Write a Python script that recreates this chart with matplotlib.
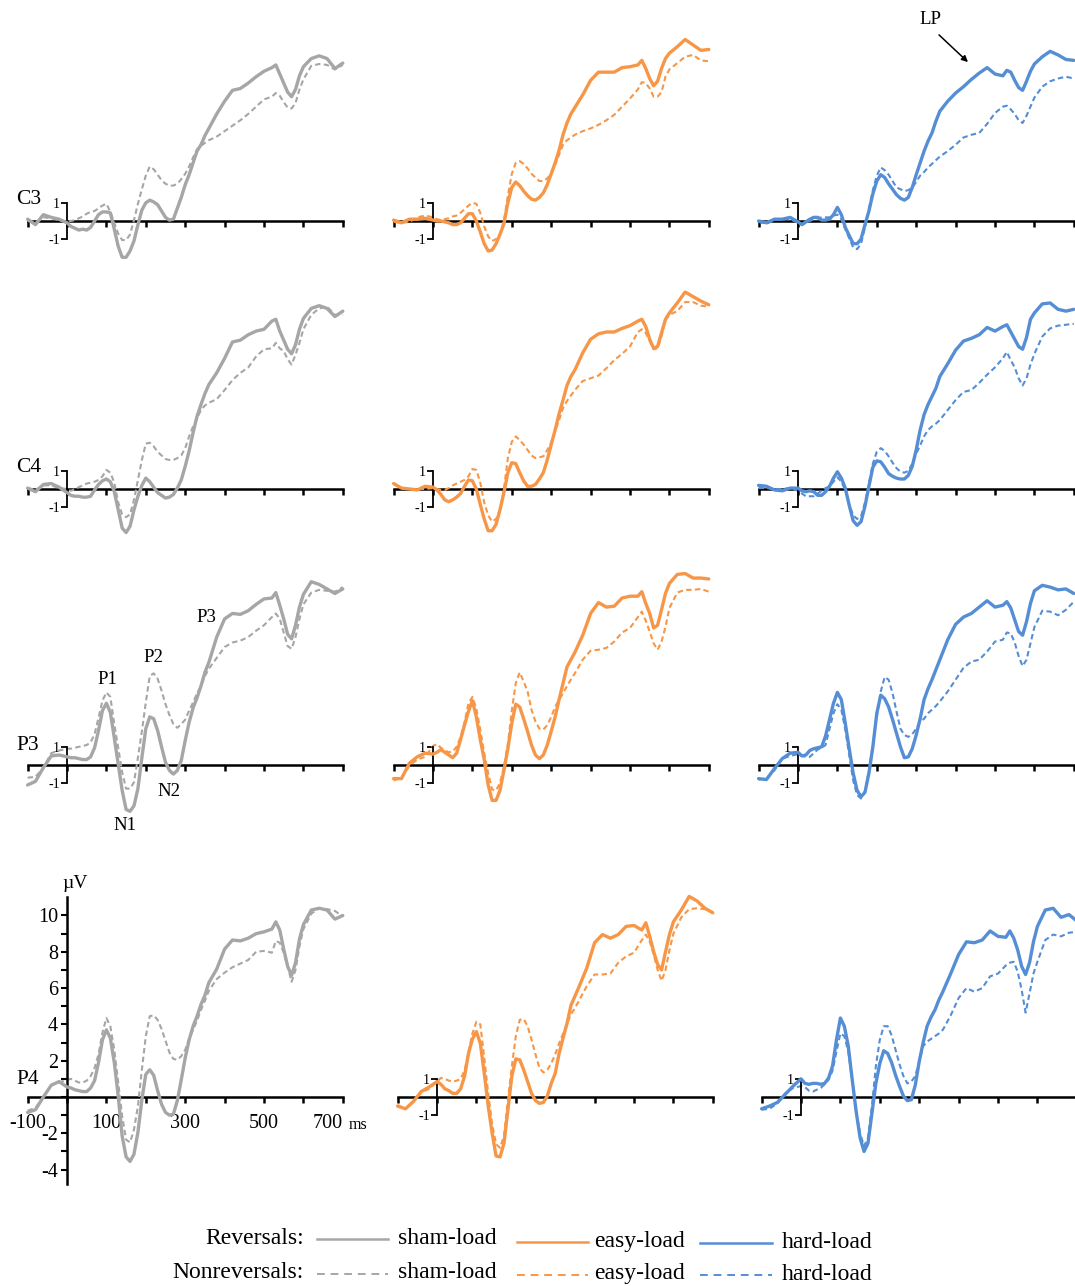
import matplotlib.pyplot as plt
from matplotlib.lines import Line2D

plt.rcParams['font.family'] = ['Liberation Serif', 'DejaVu Serif']
plt.rcParams['axes.unicode_minus'] = False

# time points (ms)
times = [-100, -80, -60, -40, -20,
         0, 10, 20, 30, 40, 50, 60, 70, 80, 90,
         100, 110, 120, 130, 140, 150, 160, 170, 180, 190,
         200, 210, 220, 230, 240, 250, 260, 270, 280, 290,
         300, 310, 320, 330, 340, 350, 360,
         380, 400, 420, 440, 460, 480, 500,
         520, 530, 540, 550, 560, 570, 580, 590, 600,
         620, 640, 660, 680, 700]

# amplitudes (uV); rev = reversals (solid), non = nonreversals (dashed)
c3_sham_rev = [0.1, -0.2, 0.35, 0.2, 0.1,
               -0.1, -0.3, -0.4, -0.5, -0.45, -0.5, -0.35, 0.0, 0.35, 0.5,
               0.5, 0.45, -0.45, -1.4, -2.0, -2.0, -1.65, -1.1, -0.2, 0.6,
               1.0, 1.15, 1.05, 0.9, 0.55, 0.2, 0.05, 0.1, 0.7, 1.3,
               2.0, 2.55, 3.2, 3.85, 4.2, 4.7, 5.1,
               5.9, 6.6, 7.2, 7.3, 7.6, 7.95, 8.25,
               8.45, 8.6, 8.1, 7.6, 7.1, 6.85, 7.25, 8.0, 8.5,
               8.95, 9.1, 8.95, 8.4, 8.7]
c3_sham_non = [0.0, -0.1, 0.2, 0.15, 0.05,
               -0.05, 0.0, 0.05, 0.15, 0.25, 0.4, 0.5, 0.55, 0.7, 0.85,
               0.95, 0.5, -0.1, -0.7, -1.05, -1.05, -0.75, 0.05, 0.95, 1.75,
               2.5, 3.0, 2.85, 2.55, 2.25, 2.05, 1.95, 1.95, 2.05, 2.3,
               2.6, 3.0, 3.5, 3.95, 4.15, 4.3, 4.45,
               4.65, 4.95, 5.25, 5.55, 5.9, 6.3, 6.7,
               6.85, 7.05, 6.9, 6.55, 6.25, 6.2, 6.5, 7.25, 7.8,
               8.55, 8.65, 8.6, 8.35, 8.6]
c3_easy_rev = [0.05, -0.1, 0.1, 0.1, 0.15,
               0.05, 0.0, 0.0, -0.05, -0.1, -0.2, -0.2, -0.1, 0.15, 0.4,
               0.4, 0.0, -0.6, -1.25, -1.65, -1.6, -1.25, -0.75, -0.15, 1.0,
               1.85, 2.15, 1.95, 1.65, 1.4, 1.2, 1.15, 1.3, 1.55, 2.0,
               2.6, 3.2, 3.9, 4.75, 5.4, 5.9, 6.25,
               6.95, 7.75, 8.2, 8.2, 8.2, 8.45, 8.5,
               8.6, 8.85, 8.4, 7.85, 7.45, 7.7, 8.4, 8.95, 9.25,
               9.6, 10.0, 9.7, 9.4, 9.45]
c3_easy_non = [-0.05, -0.1, -0.05, 0.2, 0.3,
               0.2, 0.1, 0.05, 0.1, 0.15, 0.25, 0.3, 0.45, 0.65, 0.85,
               1.0, 0.95, 0.45, -0.3, -0.85, -1.1, -1.0, -0.7, 0.0, 1.4,
               2.6, 3.2, 3.3, 3.15, 2.9, 2.6, 2.4, 2.2, 2.2, 2.35,
               2.6, 3.1, 3.65, 4.2, 4.45, 4.6, 4.75,
               4.95, 5.1, 5.3, 5.55, 5.85, 6.3, 6.75,
               7.25, 7.65, 7.6, 7.3, 6.85, 6.85, 7.1, 7.95, 8.35,
               8.7, 9.05, 9.15, 8.85, 8.8]
c3_hard_rev = [0.0, -0.1, 0.1, 0.1, 0.2,
               -0.05, -0.2, -0.05, 0.1, 0.2, 0.2, 0.05, 0.05, 0.1, 0.35,
               0.75, 0.35, -0.35, -0.8, -1.25, -1.25, -1.0, -0.2, 0.55, 1.5,
               2.2, 2.55, 2.4, 2.05, 1.75, 1.45, 1.25, 1.15, 1.3, 1.85,
               2.55, 3.2, 3.85, 4.4, 4.85, 5.5, 6.05,
               6.6, 7.05, 7.4, 7.8, 8.15, 8.45, 8.1,
               8.0, 8.3, 8.2, 7.75, 7.35, 7.2, 7.7, 8.25, 8.65,
               9.05, 9.35, 9.15, 8.9, 8.85]
c3_hard_non = [-0.05, -0.15, 0.05, 0.1, 0.1,
               -0.1, -0.2, -0.1, 0.0, 0.1, 0.15, 0.2, 0.2, 0.2, 0.3,
               0.35, 0.1, -0.45, -0.95, -1.45, -1.55, -1.25, -0.35, 0.65, 1.7,
               2.5, 2.95, 2.8, 2.55, 2.2, 1.85, 1.75, 1.65, 1.7, 1.85,
               2.15, 2.5, 2.7, 2.95, 3.15, 3.35, 3.55,
               3.85, 4.2, 4.6, 4.75, 4.85, 5.35, 5.95,
               6.3, 6.35, 6.15, 5.9, 5.55, 5.4, 5.8, 6.3, 6.8,
               7.4, 7.7, 7.85, 7.95, 7.85]

c4_sham_rev = [0.05, -0.15, 0.25, 0.3, 0.1,
               -0.2, -0.35, -0.4, -0.4, -0.45, -0.45, -0.4, -0.05, 0.25, 0.45,
               0.55, 0.4, -0.15, -1.15, -2.15, -2.4, -2.05, -1.15, -0.4, 0.2,
               0.6, 0.4, 0.1, -0.2, -0.35, -0.5, -0.45, -0.3, 0.05, 0.5,
               1.25, 2.1, 3.1, 4.0, 4.65, 5.25, 5.75,
               6.4, 7.2, 8.1, 8.2, 8.5, 8.7, 8.8,
               9.25, 9.35, 8.7, 8.2, 7.7, 7.45, 7.95, 8.8, 9.4,
               9.95, 10.1, 9.95, 9.5, 9.8]
c4_sham_non = [0.05, -0.05, 0.2, 0.2, 0.05,
               0.0, -0.1, 0.0, 0.1, 0.2, 0.3, 0.35, 0.4, 0.5, 0.7,
               1.05, 0.9, 0.35, -0.75, -1.4, -1.55, -1.4, -0.6, 0.5, 1.6,
               2.5, 2.55, 2.35, 2.05, 1.85, 1.65, 1.6, 1.6, 1.7, 1.85,
               2.25, 2.9, 3.45, 3.9, 4.35, 4.6, 4.75,
               4.95, 5.45, 6.0, 6.4, 6.7, 7.3, 7.7,
               7.75, 8.05, 7.75, 7.6, 7.15, 6.85, 7.4, 8.05, 8.8,
               9.6, 9.95, 10.05, 9.6, 9.6]
c4_easy_rev = [0.3, 0.05, 0.0, -0.05, 0.15,
               0.1, -0.05, -0.3, -0.6, -0.7, -0.6, -0.45, -0.25, 0.15, 0.5,
               0.45, 0.0, -0.85, -1.65, -2.3, -2.3, -1.95, -1.15, -0.2, 0.9,
               1.45, 1.4, 0.9, 0.45, 0.15, 0.15, 0.25, 0.55, 0.9, 1.6,
               2.45, 3.25, 4.15, 4.9, 5.7, 6.2, 6.55,
               7.5, 8.25, 8.55, 8.65, 8.65, 8.85, 9.0,
               9.25, 9.35, 8.95, 8.25, 7.75, 7.85, 8.6, 9.35, 9.7,
               10.25, 10.85, 10.6, 10.35, 10.15]
c4_easy_non = [0.3, 0.05, 0.0, 0.0, 0.0,
               0.05, 0.0, -0.05, -0.05, 0.05, 0.2, 0.3, 0.4, 0.5, 0.7,
               1.1, 1.05, 0.35, -0.75, -1.45, -1.8, -1.65, -1.15, 0.0, 1.7,
               2.6, 2.9, 2.7, 2.45, 2.15, 1.85, 1.7, 1.75, 1.8, 2.15,
               2.55, 3.2, 3.8, 4.45, 4.85, 5.15, 5.45,
               5.95, 6.1, 6.25, 6.65, 7.1, 7.45, 7.85,
               8.65, 8.8, 8.6, 8.15, 7.7, 7.75, 8.4, 9.3, 9.6,
               9.8, 10.3, 10.3, 10.1, 10.05]
c4_hard_rev = [0.2, 0.15, -0.05, -0.1, 0.05,
               0.05, -0.1, -0.15, -0.1, -0.15, -0.35, -0.35, -0.15, 0.15, 0.6,
               0.95, 0.6, 0.05, -0.9, -1.75, -2.0, -1.8, -0.95, 0.15, 1.2,
               1.55, 1.5, 1.2, 0.85, 0.7, 0.6, 0.55, 0.55, 0.75, 1.25,
               2.15, 3.25, 4.1, 4.65, 5.1, 5.55, 6.2,
               6.9, 7.65, 8.15, 8.3, 8.5, 8.9, 8.7,
               8.95, 9.05, 8.65, 8.25, 7.85, 7.7, 8.35, 9.35, 9.7,
               10.2, 10.25, 9.9, 9.8, 9.9]
c4_hard_non = [0.05, 0.05, 0.0, 0.0, 0.05,
               -0.1, -0.25, -0.4, -0.4, -0.4, -0.25, -0.1, 0.05, 0.15, 0.4,
               0.65, 0.4, -0.05, -0.85, -1.45, -1.65, -1.5, -0.75, 0.3, 1.4,
               2.05, 2.25, 2.1, 1.8, 1.45, 1.15, 0.95, 0.9, 1.0, 1.4,
               1.95, 2.4, 2.9, 3.25, 3.45, 3.6, 3.8,
               4.35, 4.9, 5.35, 5.45, 5.85, 6.3, 6.7,
               7.2, 7.55, 7.1, 6.7, 6.1, 5.7, 6.1, 6.85, 7.45,
               8.4, 8.85, 9.0, 9.05, 9.1]

p3_sham_rev = [-1.1, -0.9, -0.15, 0.5, 0.55,
               0.45, 0.4, 0.4, 0.35, 0.3, 0.3, 0.45, 0.95, 1.9, 3.0,
               3.4, 2.9, 1.5, 0.05, -1.4, -2.45, -2.55, -2.25, -1.3, 0.4,
               2.0, 2.65, 2.55, 1.9, 1.0, 0.15, -0.3, -0.5, -0.3, 0.25,
               1.35, 2.35, 3.15, 3.7, 4.35, 5.1, 5.65,
               7.05, 8.05, 8.35, 8.3, 8.5, 8.85, 9.15,
               9.2, 9.5, 8.8, 8.05, 7.2, 6.95, 7.7, 8.7, 9.4,
               10.1, 9.95, 9.7, 9.45, 9.7]
p3_sham_non = [-0.7, -0.65, -0.15, 0.65, 0.8,
               0.9, 0.9, 0.95, 1.0, 1.05, 1.1, 1.25, 1.7, 2.6, 3.55,
               4.0, 3.75, 2.25, 0.95, -0.4, -1.3, -1.3, -0.95, 0.4, 1.85,
               3.45, 4.9, 5.05, 4.75, 4.1, 3.35, 2.75, 2.25, 2.05, 2.25,
               2.5, 3.0, 3.45, 3.95, 4.35, 4.9, 5.3,
               5.9, 6.5, 6.75, 6.85, 7.05, 7.4, 7.7,
               8.15, 8.35, 8.05, 7.3, 6.55, 6.4, 7.05, 8.05, 8.85,
               9.5, 9.65, 9.6, 9.55, 9.8]
p3_easy_rev = [-0.75, -0.75, 0.1, 0.45, 0.65,
               0.6, 0.7, 0.85, 0.7, 0.55, 0.4, 0.65, 1.4, 2.2, 2.95,
               3.55, 2.65, 1.4, 0.3, -1.1, -1.95, -1.95, -1.4, -0.3, 0.9,
               2.3, 3.35, 3.2, 2.55, 1.85, 1.1, 0.55, 0.35, 0.55, 1.1,
               1.85, 2.65, 3.6, 4.5, 5.4, 5.8, 6.2,
               7.15, 8.35, 8.95, 8.7, 8.75, 9.2, 9.3,
               9.3, 9.55, 8.9, 8.35, 7.55, 7.7, 8.55, 9.45, 10.0,
               10.5, 10.55, 10.3, 10.3, 10.25]
p3_easy_non = [-0.85, -0.7, -0.05, 0.3, 0.45,
               1.05, 1.15, 0.95, 0.8, 0.7, 0.75, 1.0, 1.55, 2.35, 3.4,
               3.75, 3.1, 1.95, 0.65, -0.45, -1.35, -1.4, -1.0, -0.1, 1.15,
               3.0, 4.5, 5.1, 4.6, 4.05, 3.05, 2.4, 2.0, 1.95, 2.2,
               2.65, 3.2, 3.6, 3.95, 4.35, 4.7, 5.05,
               5.8, 6.3, 6.35, 6.45, 6.8, 7.3, 7.55,
               8.15, 8.45, 7.95, 7.35, 6.7, 6.35, 6.8, 7.6, 8.65,
               9.5, 9.65, 9.65, 9.7, 9.55]
p3_hard_rev = [-0.75, -0.8, -0.2, 0.35, 0.65,
               0.7, 0.5, 0.55, 0.8, 0.9, 0.95, 1.0, 1.6, 2.5, 3.4,
               4.0, 3.6, 2.3, 0.9, -0.45, -1.4, -1.75, -1.5, -0.45, 1.0,
               2.85, 3.85, 3.65, 3.2, 2.5, 1.75, 1.0, 0.4, 0.45, 0.9,
               1.65, 2.55, 3.6, 4.2, 4.7, 5.25, 5.8,
               6.9, 7.75, 8.15, 8.35, 8.7, 9.05, 8.7,
               8.8, 9.0, 8.65, 8.0, 7.35, 7.15, 7.9, 8.9, 9.6,
               9.9, 9.8, 9.65, 9.7, 9.45]
p3_hard_non = [-0.8, -0.75, -0.3, 0.35, 0.5,
               0.6, 0.5, 0.45, 0.45, 0.65, 0.85, 0.95, 1.1, 2.0, 2.85,
               3.35, 3.05, 1.95, 0.55, -0.85, -1.65, -1.85, -1.45, -0.3, 1.1,
               2.65, 4.05, 4.85, 4.7, 3.95, 2.95, 2.0, 1.65, 1.55, 1.7,
               2.0, 2.4, 2.55, 2.85, 3.05, 3.25, 3.5,
               4.05, 4.7, 5.35, 5.7, 5.8, 6.25, 6.8,
               6.9, 7.3, 7.25, 6.75, 6.0, 5.45, 5.8, 6.7, 7.6,
               8.5, 8.45, 8.25, 8.55, 9.0]

p4_sham_rev = [-0.85, -0.7, 0.0, 0.65, 0.85,
               0.55, 0.5, 0.4, 0.35, 0.3, 0.3, 0.5, 0.9, 1.9, 3.15,
               3.7, 3.25, 1.9, 0.05, -2.15, -3.3, -3.55, -3.15, -1.95, -0.15,
               1.25, 1.5, 1.2, 0.35, -0.4, -0.85, -1.0, -0.95, -0.2, 0.95,
               2.15, 3.15, 3.9, 4.45, 5.1, 5.6, 6.3,
               7.05, 8.15, 8.65, 8.6, 8.75, 9.0, 9.1,
               9.25, 9.65, 9.2, 8.15, 7.2, 6.7, 7.4, 8.7, 9.5,
               10.3, 10.4, 10.3, 9.8, 10.0]
p4_sham_non = [-0.75, -0.6, 0.0, 0.65, 0.8,
               0.95, 1.0, 0.9, 0.8, 0.8, 0.9, 1.15, 1.6, 2.35, 3.55,
               4.35, 3.9, 2.6, 0.8, -1.05, -2.35, -2.5, -1.8, -0.5, 1.5,
               3.35, 4.45, 4.5, 4.25, 3.75, 3.1, 2.45, 2.1, 2.05, 2.25,
               2.6, 3.2, 3.7, 4.2, 4.8, 5.3, 5.85,
               6.5, 6.85, 7.15, 7.35, 7.55, 8.0, 8.05,
               7.95, 8.6, 8.5, 7.95, 7.2, 6.35, 7.0, 8.3, 9.25,
               10.1, 10.4, 10.35, 10.25, 9.95]
p4_easy_rev = [-0.5, -0.65, -0.25, 0.3, 0.55,
               0.85, 0.7, 0.45, 0.35, 0.2, 0.2, 0.45, 1.15, 2.4, 3.2,
               3.6, 2.95, 1.3, -0.5, -2.0, -3.25, -3.3, -2.55, -0.7, 1.15,
               2.1, 2.05, 1.5, 0.85, 0.2, -0.2, -0.35, -0.3, 0.05, 0.75,
               1.3, 2.4, 3.25, 4.05, 5.05, 5.55, 6.05,
               7.1, 8.5, 8.95, 8.75, 8.95, 9.4, 9.45,
               9.2, 9.6, 8.85, 8.0, 7.3, 7.0, 8.0, 8.95, 9.65,
               10.3, 11.05, 10.8, 10.4, 10.15]
p4_easy_non = [-0.45, -0.65, -0.25, 0.25, 0.45,
               0.85, 1.05, 1.0, 0.9, 0.85, 0.9, 1.0, 1.45, 2.5, 3.5,
               4.15, 4.0, 2.15, 0.2, -1.5, -2.6, -2.8, -2.15, -0.15, 1.7,
               3.35, 4.25, 4.3, 3.9, 3.15, 2.35, 1.6, 1.35, 1.5, 1.85,
               2.35, 2.95, 3.5, 4.05, 4.55, 4.9, 5.3,
               6.1, 6.75, 6.75, 6.8, 7.4, 7.75, 7.95,
               8.65, 8.95, 8.55, 7.85, 7.0, 6.4, 7.0, 8.1, 9.0,
               9.9, 10.35, 10.4, 10.35, 10.15]
p4_hard_rev = [-0.65, -0.5, -0.3, 0.15, 0.6,
               1.0, 0.75, 0.7, 0.75, 0.75, 0.7, 0.75, 1.05, 1.7, 3.15,
               4.35, 3.9, 2.8, 0.95, -0.8, -2.25, -3.0, -2.55, -0.9, 0.75,
               1.85, 2.55, 2.4, 1.9, 1.2, 0.6, 0.05, -0.2, -0.15, 0.65,
               1.95, 3.0, 3.9, 4.4, 4.8, 5.35, 5.8,
               6.8, 7.85, 8.55, 8.5, 8.65, 9.15, 8.85,
               8.8, 9.15, 8.75, 8.1, 7.2, 6.75, 7.4, 8.55, 9.4,
               10.3, 10.4, 9.9, 10.05, 9.7]
p4_hard_non = [-0.7, -0.65, -0.35, 0.2, 0.5,
               0.6, 0.55, 0.35, 0.3, 0.4, 0.5, 0.7, 0.95, 1.45, 2.5,
               3.5, 3.35, 2.5, 0.95, -0.8, -2.0, -2.7, -2.25, -0.5, 1.7,
               3.15, 3.9, 3.9, 3.4, 2.6, 1.8, 1.15, 0.75, 0.85, 1.15,
               1.95, 2.8, 3.05, 3.2, 3.35, 3.5, 3.7,
               4.5, 5.45, 6.0, 5.8, 6.0, 6.65, 6.8,
               7.25, 7.4, 7.45, 6.9, 5.9, 4.65, 5.7, 6.8, 7.45,
               8.65, 8.95, 8.85, 9.05, 9.1]

electrodes = ['C3', 'C4', 'P3', 'P4']
conditions = ['sham-load', 'easy-load', 'hard-load']
colors = ['#A6A6A6', '#F79646', '#558ED5']

waves = {
    'C3': [(c3_sham_rev, c3_sham_non), (c3_easy_rev, c3_easy_non), (c3_hard_rev, c3_hard_non)],
    'C4': [(c4_sham_rev, c4_sham_non), (c4_easy_rev, c4_easy_non), (c4_hard_rev, c4_hard_non)],
    'P3': [(p3_sham_rev, p3_sham_non), (p3_easy_rev, p3_easy_non), (p3_hard_rev, p3_hard_non)],
    'P4': [(p4_sham_rev, p4_sham_non), (p4_easy_rev, p4_easy_non), (p4_hard_rev, p4_hard_non)],
}

# layout in pixels
W, H = 1075, 1286
PX_MS = 0.394      # pixels per ms
PX_UV = 18.15      # pixels per uV
XMIN, XMAX = -110, 712
YMIN, YMAX = -5.5, 11.5
row_base = [221, 489, 765, 1097]
col_zero = [[67, 433, 798], [67, 433, 798], [67, 433, 798], [67, 437, 801]]

DASH = (0, (2.6, 1.6))

fig = plt.figure(figsize=(W / 100, H / 100), dpi=100)


def make_panel(zero_px, base_px):
    left = zero_px + XMIN * PX_MS
    top = base_px - YMAX * PX_UV
    w = (XMAX - XMIN) * PX_MS
    h = (YMAX - YMIN) * PX_UV
    ax = fig.add_axes([left / W, 1 - (top + h) / H, w / W, h / H])
    ax.set_xlim(XMIN, XMAX)
    ax.set_ylim(YMIN, YMAX)
    ax.patch.set_visible(False)
    ax.spines['top'].set_visible(False)
    ax.spines['right'].set_visible(False)
    ax.spines['bottom'].set_position(('data', 0))
    ax.spines['bottom'].set_bounds(-100, 700)
    ax.spines['bottom'].set_linewidth(1.8)
    ax.spines['bottom'].set_zorder(1)
    ax.spines['left'].set_position(('data', 0))
    ax.set_xticks(range(-100, 701, 100))
    ax.set_xticklabels([])
    ax.tick_params(axis='x', direction='out', length=4, width=1.8)
    return ax


for r, el in enumerate(electrodes):
    for c in range(3):
        ax = make_panel(col_zero[r][c], row_base[r])
        rev, non = waves[el][c]
        ax.plot(times, non, color=colors[c], lw=1.5, ls=DASH, zorder=2)
        ax.plot(times, rev, color=colors[c], lw=2.4, zorder=3,
                solid_joinstyle='round', solid_capstyle='round')

        if r == 3 and c == 0:
            # full amplitude axis
            ax.spines['left'].set_bounds(-4.8, 11.0)
            ax.spines['left'].set_linewidth(1.8)
            yt = list(range(-4, 11))
            ax.set_yticks(yt)
            ax.set_yticklabels(['' if (v == 0 or v % 2) else str(v) for v in yt])
            ax.tick_params(axis='y', direction='out', length=4, width=1.5,
                           labelsize=14.5, pad=2.5)
            ax.set_xticklabels(['-100', '', '100', '', '300', '', '500', '', '700'])
            ax.tick_params(axis='x', labelsize=14.5, pad=8)
            # "700" sits just left of its tick, followed by "ms"
            ax.get_xticklabels()[-1].set_horizontalalignment('right')
        else:
            # small 1 uV calibration bracket
            ax.spines['left'].set_bounds(-1, 1)
            ax.spines['left'].set_linewidth(1.3)
            ax.set_yticks([-1, 1])
            ax.set_yticklabels(['-1', '1'])
            ax.tick_params(axis='y', direction='out', length=4, width=1.3,
                           labelsize=10, pad=1)

# overlay in pixel coordinates for labels and legend
ov = fig.add_axes([0, 0, 1, 1])
ov.set_xlim(0, W)
ov.set_ylim(H, 0)
ov.axis('off')
ov.patch.set_visible(False)

for el, y in zip(electrodes, [200, 467, 745, 1079]):
    ov.text(16, y, el, fontsize=15.5, ha='left', va='center')

for lab, x, y in [('P1', 107, 679), ('P2', 153, 658), ('N1', 125, 825),
                  ('N2', 169, 792), ('P3', 206, 618)]:
    ov.text(x, y, lab, fontsize=13.5, ha='center', va='center')

ov.text(930, 20, 'LP', fontsize=13.5, ha='center', va='center')
ov.annotate('', xy=(970, 64), xytext=(937, 33),
            arrowprops=dict(arrowstyle='-|>', color='black', lw=1.1, mutation_scale=9))

ov.text(62, 883, 'µV', fontsize=14, ha='left', va='center')
ov.text(349, 1125, 'ms', fontsize=11.5, ha='left', va='center')

# legend
ov.text(304, 1239, 'Reversals:', fontsize=17, ha='right', va='center')
ov.text(304, 1273, 'Nonreversals:', fontsize=17, ha='right', va='center')
key_x = [(317, 388, 398), (517, 588, 594), (700, 772, 782)]
row1_y = [1239, 1242, 1243]
row2_y = [1274, 1275, 1275]
for k, (x0, x1, xt) in enumerate(key_x):
    ov.add_line(Line2D([x0, x1], [row1_y[k], row1_y[k]], color=colors[k], lw=1.8))
    ov.text(xt, row1_y[k] - 1, conditions[k], fontsize=17, ha='left', va='center')
    ov.add_line(Line2D([x0, x1], [row2_y[k], row2_y[k]], color=colors[k], lw=1.4, ls=(0, (4, 3))))
    ov.text(xt, row2_y[k] - 1, conditions[k], fontsize=17, ha='left', va='center')

fig.savefig('out.png', dpi=100)
